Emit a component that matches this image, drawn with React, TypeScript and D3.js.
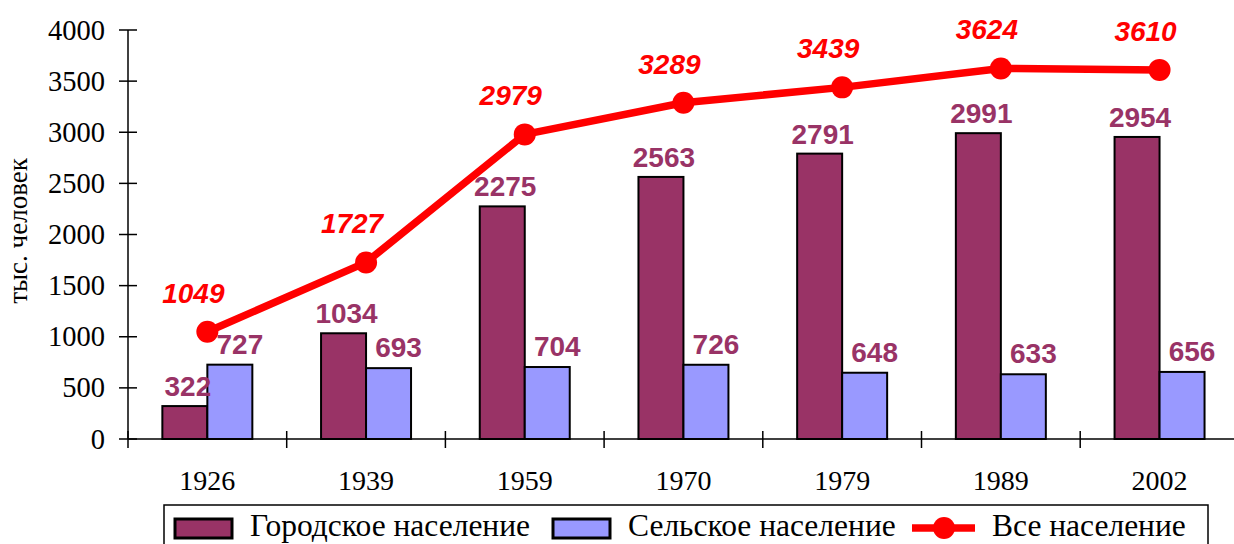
import React from "react";
import * as d3 from "d3";

const years = ["1926", "1939", "1959", "1970", "1979", "1989", "2002"];
const urban = [322, 1034, 2275, 2563, 2791, 2991, 2954];
const rural = [727, 693, 704, 726, 648, 633, 656];
const total = [1049, 1727, 2979, 3289, 3439, 3624, 3610];
const yTicks = [0, 500, 1000, 1500, 2000, 2500, 3000, 3500, 4000];
const seriesNames = ["Городское население", "Сельское население", "Все население"];

const W = 1234;
const H = 544;
const left = 128;
const plotRight = 128 + 7 * 158.7;
const yTop = 30;
const yBottom = 439;
const URBAN = "#993366";
const RURAL = "#9999FF";
const RED = "#FF0000";

export default function App() {
  const x = d3.scaleBand<string>().domain(years).range([left, plotRight]).padding(0);
  const bw = x.bandwidth();
  const x1 = d3.scaleBand<string>().domain(["u", "r"]).range([bw * 0.2165, bw * 0.7835]).padding(0);
  const y = d3.scaleLinear().domain([0, 4000]).range([yBottom, yTop]);
  const cx = (i: number) => (x(years[i]) as number) + bw / 2;
  const line = d3
    .line<number>()
    .x((_, i) => cx(i))
    .y((d) => y(d));
  const serif = "'Liberation Serif', 'Times New Roman', serif";
  const sans = "'Liberation Sans', Arial, sans-serif";

  return (
    <svg
      width={W}
      height={H}
      style={{ position: "absolute", left: 0, top: 0, background: "#fff" }}
    >
      <rect x={0} y={0} width={W} height={H} fill="#fff" />
      {/* y axis */}
      <line x1={left} x2={left} y1={yTop} y2={yBottom} stroke="#000" strokeWidth={1.5} />
      {yTicks.map((t) => (
        <g key={t}>
          <line x1={left - 9} x2={left + 9} y1={y(t)} y2={y(t)} stroke="#000" strokeWidth={1.5} />
          <text
            x={105}
            y={y(t) + 9.5}
            textAnchor="end"
            fontFamily={serif}
            fontSize={28.5}
            fill="#000"
          >
            {t}
          </text>
        </g>
      ))}
      <text
        transform={`translate(27, 231) rotate(-90)`}
        textAnchor="middle"
        fontFamily={serif}
        fontSize={27}
        fill="#000"
      >
        тыс. человек
      </text>
      {/* x axis */}
      <line x1={left} x2={W} y1={yBottom} y2={yBottom} stroke="#000" strokeWidth={1.5} />
      {years.map((yr, i) => (
        <g key={yr}>
          <line
            x1={(x(yr) as number)}
            x2={(x(yr) as number)}
            y1={yBottom - 8}
            y2={yBottom + 9}
            stroke="#000"
            strokeWidth={1.5}
          />
          <text
            x={cx(i)}
            y={490}
            textAnchor="middle"
            fontFamily={serif}
            fontSize={28}
            fill="#000"
          >
            {yr}
          </text>
        </g>
      ))}
      {/* bars */}
      {years.map((yr, i) => {
        const x0 = x(yr) as number;
        const ux = x0 + (x1("u") as number);
        const rx = x0 + (x1("r") as number);
        const w = x1.bandwidth();
        return (
          <g key={"b" + yr}>
            <rect
              x={ux}
              y={y(urban[i])}
              width={w}
              height={yBottom - y(urban[i])}
              fill={URBAN}
              stroke="#000"
              strokeWidth={2}
            />
            <rect
              x={rx}
              y={y(rural[i])}
              width={w}
              height={yBottom - y(rural[i])}
              fill={RURAL}
              stroke="#000"
              strokeWidth={2}
            />
            <text
              x={ux + w / 2 + 3}
              y={y(urban[i]) - 10}
              textAnchor="middle"
              fontFamily={sans}
              fontWeight="bold"
              fontSize={28}
              fill={URBAN}
            >
              {urban[i]}
            </text>
            <text
              x={rx + w / 2 + 10}
              y={y(rural[i]) - 11}
              textAnchor="middle"
              fontFamily={sans}
              fontWeight="bold"
              fontSize={28}
              fill={URBAN}
            >
              {rural[i]}
            </text>
          </g>
        );
      })}
      {/* total line */}
      <path d={line(total) as string} fill="none" stroke={RED} strokeWidth={7.5} strokeLinejoin="round" />
      {total.map((v, i) => (
        <g key={"t" + i}>
          <circle cx={cx(i)} cy={y(v)} r={11} fill={RED} />
          <text
            x={cx(i) - 14}
            y={y(v) - 29}
            textAnchor="middle"
            fontFamily={sans}
            fontWeight="bold"
            fontStyle="italic"
            fontSize={28}
            fill={RED}
          >
            {v}
          </text>
        </g>
      ))}
      {/* legend */}
      <rect x={164} y={505} width={1044} height={60} fill="#fff" stroke="#000" strokeWidth={1.5} />
      <rect x={175} y={519} width={57} height={19} fill={URBAN} stroke="#000" strokeWidth={3} />
      <text x={250} y={536} fontFamily={serif} fontSize={31.5} fill="#000">
        {seriesNames[0]}
      </text>
      <rect x={553} y={519} width={57} height={19} fill={RURAL} stroke="#000" strokeWidth={3} />
      <text x={628} y={536} fontFamily={serif} fontSize={31.5} fill="#000">
        {seriesNames[1]}
      </text>
      <line x1={912} x2={975} y1={528} y2={528} stroke={RED} strokeWidth={7.5} />
      <circle cx={944} cy={528} r={11} fill={RED} />
      <text x={992} y={536} fontFamily={serif} fontSize={31.5} fill="#000">
        {seriesNames[2]}
      </text>
    </svg>
  );
}
